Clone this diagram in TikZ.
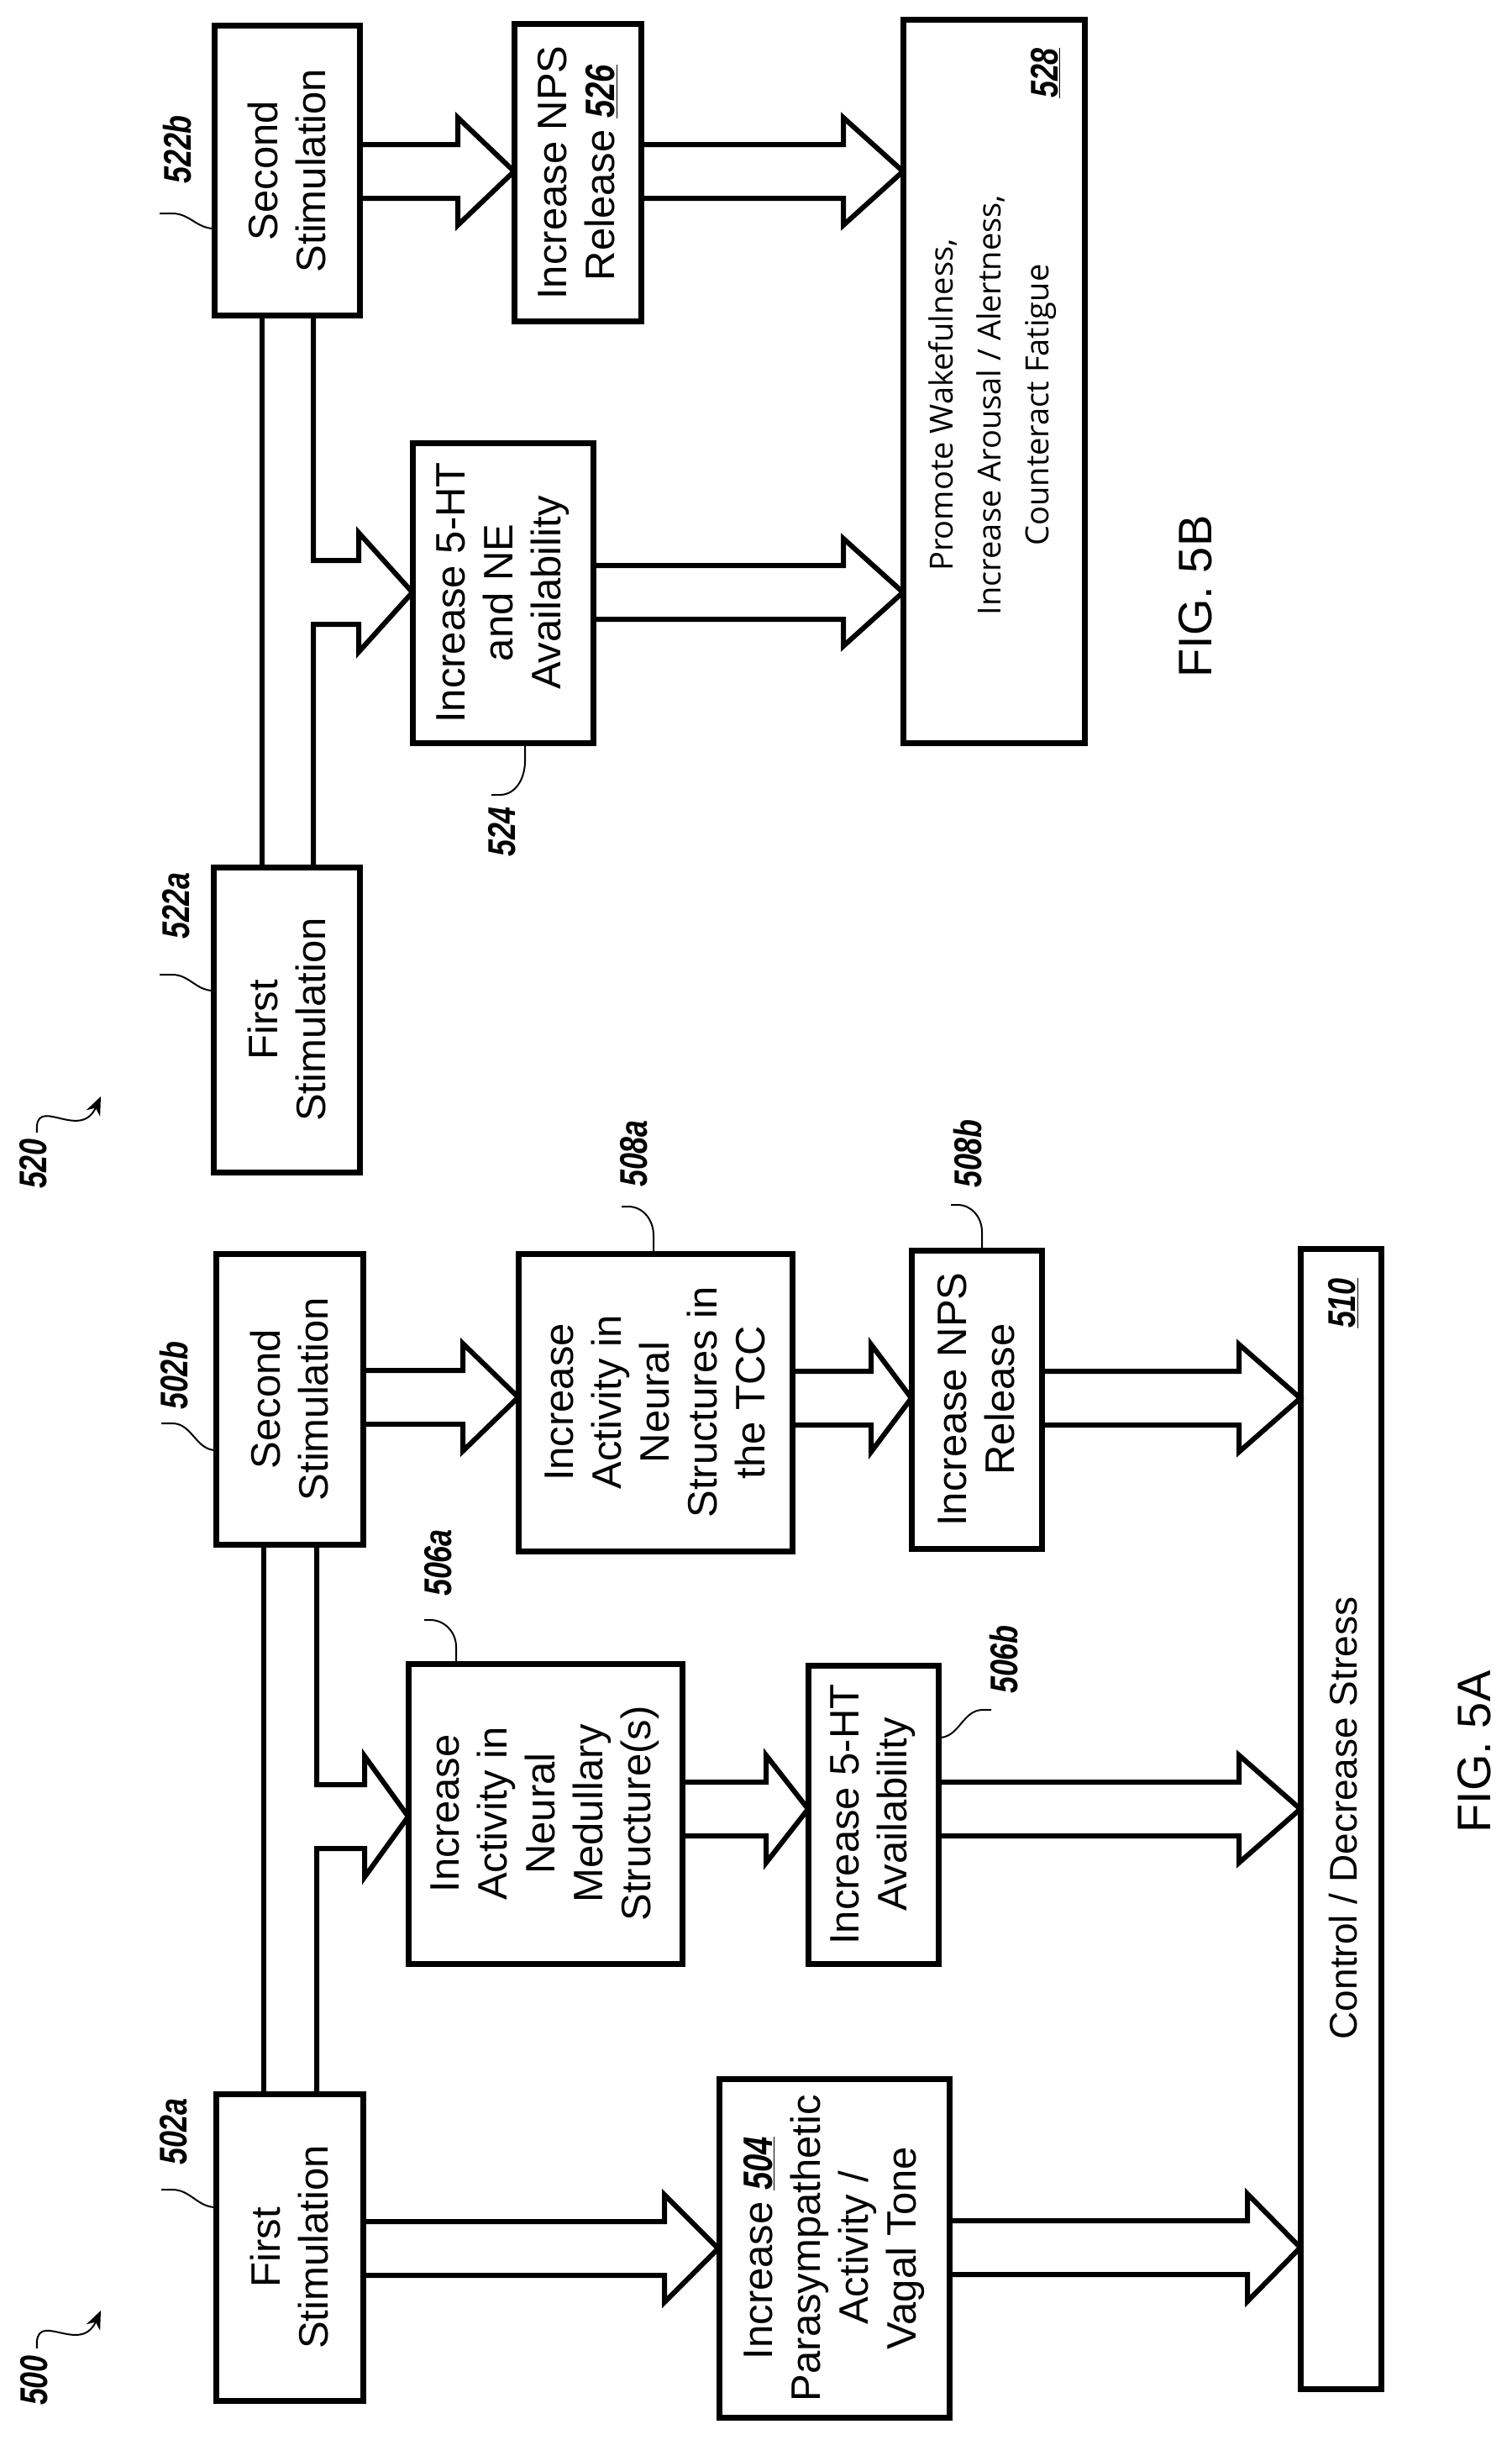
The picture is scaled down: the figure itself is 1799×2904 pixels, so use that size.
\documentclass[tikz,border=0pt]{standalone}
\usepackage{fontspec}
\setmainfont{Liberation Sans}
\newfontfamily\lblfont[FakeStretch=0.78]{Liberation Sans}
\newfontfamily\bfont{Open Sans}
\usetikzlibrary{arrows.meta}
\newcommand\mybox[6]{%
 \pgfmathsetmacro\bw{#5-#3}\pgfmathsetmacro\bh{#4-#2}%
 \node[box,minimum width=\bw pt,minimum height=\bh pt] (#1) at ({(#2+#4)/2},{(#3+#5)/2}) {#6};}
\newcommand\barrow[4]{%
 \draw[arr] (#1,#4-32) -- (#2,#4-32) -- (#2,#4-64) -- (#3,#4) -- (#2,#4+64) -- (#2,#4+32) -- (#1,#4+32);}
\begin{document}
\begin{tikzpicture}[x=1pt,y=-1pt,
 box/.style={draw,line width=7pt,rotate=90,inner sep=0pt,align=center,font=\fontsize{49}{57}\selectfont},
 arr/.style={line width=6pt,line join=miter},
 lbl/.style={rotate=90,inner sep=0pt,font=\lblfont\fontsize{46}{50}\selectfont\bfseries\itshape},
 lead/.style={line width=2pt},
 fig/.style={rotate=90,inner sep=0pt,font=\fontsize{56}{60}\selectfont}]
\useasboundingbox (0,0) rectangle (1799,2904);
% ---------- FIG 5A ----------
\mybox{b502a}{257}{2492}{432}{2857}{First\\Stimulation}
\mybox{b502b}{257}{1492}{432}{1838}{Second\\Stimulation}
\mybox{b504}{856}{2474}{1130}{2877}{Increase \underline{\lblfont\bfseries\itshape 504}\\Parasympathetic\\Activity /\\Vagal Tone}
\mybox{b506a}{486}{1980}{812}{2337}{Increase\\Activity in\\Neural\\Medullary\\Structure(s)}
\mybox{b506b}{962}{1982}{1117}{2337}{Increase 5-HT\\Availability}
\mybox{b508a}{617}{1492}{943}{1846}{Increase\\Activity in\\Neural\\Structures in\\the TCC}
\mybox{b508b}{1085}{1488}{1240}{1843}{Increase NPS\\Release}
\mybox{b510}{1548}{1486}{1644}{2843}{}
\node[rotate=90,inner sep=0pt,font=\fontsize{46}{50}\selectfont] (t510) at (1599,2164) {Control / Decrease Stress};
\node[lbl] (l510) at (1599,1551) {\underline{510}};
\barrow{432}{791}{855}{2676}
\barrow{1130}{1485}{1548}{2675}
\barrow{812}{912}{962}{2153}
\barrow{1117}{1475}{1548}{2153}
\barrow{432}{551}{617}{1663}
\barrow{943}{1037}{1085}{1664}
\barrow{1240}{1475}{1548}{1664}
\draw[arr] (314,1838) -- (314,2492);
\draw[arr] (377,1838) -- (377,2124) -- (434,2124) -- (434,2090) -- (486,2162) -- (434,2234) -- (434,2200) -- (377,2200) -- (377,2492);
% labels 5A
\node[lbl] (l502a) at (207,2537) {502a};
\draw[lead] (257,2627) to[out=180,in=0] (205,2606) -- (192,2606);
\node[lbl] (l502b) at (207,1637) {502b};
\draw[lead] (257,1726) to[out=180,in=0] (205,1694) -- (192,1694);
\node[lbl] (l506a) at (522,1860) {506a};
\draw[lead] (543,1980) -- (543,1960) to[out=90,in=0] (512,1928) -- (505,1928);
\node[lbl] (l508a) at (755,1373) {508a};
\draw[lead] (778,1492) -- (778,1470) to[out=90,in=0] (748,1436) -- (740,1436);
\node[lbl] (l508b) at (1152,1373) {508b};
\draw[lead] (1169,1488) -- (1169,1466) to[out=90,in=0] (1140,1434) -- (1132,1434);
\node[lbl] (l506b) at (1195,1975) {506b};
\draw[lead] (1118,2068) to[out=0,in=180] (1170,2035) -- (1180,2035);
\node[lbl] (l500) at (41,2833) {500};
\draw[lead,-{Stealth[length=22pt,width=18pt]}] (44,2795) .. controls (40,2745) and (95,2805) .. (120,2750);
\node[fig] (f5a) at (1755,2085) {FIG. 5A};
% ---------- FIG 5B ----------
\mybox{b522a}{254}{1032}{428}{1395}{First\\Stimulation}
\mybox{b522b}{255}{31}{428}{375}{Second\\Stimulation}
\mybox{b524}{491}{527}{706}{884}{Increase 5-HT\\and NE\\Availability}
\mybox{b526}{612}{29}{763}{382}{Increase NPS\\Release \underline{\lblfont\bfseries\itshape 526}}
\mybox{b528}{1075}{24}{1291}{884}{}
\node[rotate=90,inner sep=0pt,align=center,font=\bfont\fontsize{38}{57}\selectfont] (t528) at (1182,482) {Promote Wakefulness,\\Increase Arousal / Alertness,\\Counteract Fatigue};
\node[lbl] (l528) at (1245,87) {\underline{528}};
\barrow{428}{545}{612}{204}
\barrow{763}{1004}{1075}{204}
\barrow{706}{1004}{1075}{705}
\draw[arr] (312,375) -- (312,1032);
\draw[arr] (373,375) -- (373,667) -- (427,667) -- (427,634) -- (491,705) -- (427,776) -- (427,743) -- (373,743) -- (373,1032);
\node[lbl] (l522a) at (210,1078) {522a};
\draw[lead] (254,1179) to[out=180,in=0] (205,1160) -- (190,1160);
\node[lbl] (l522b) at (211,178) {522b};
\draw[lead] (255,272) to[out=180,in=0] (205,254) -- (190,254);
\node[lbl] (l524) at (598,990) {524};
\draw[lead] (625,884) -- (625,906) to[out=-90,in=0] (595,946) -- (585,946);
\node[lbl] (l520) at (40,1385) {520};
\draw[lead,-{Stealth[length=22pt,width=18pt]}] (44,1348) .. controls (40,1300) and (95,1360) .. (120,1305);
\node[fig] (f5b) at (1423,710) {FIG. 5B};
\end{tikzpicture}
\end{document}
